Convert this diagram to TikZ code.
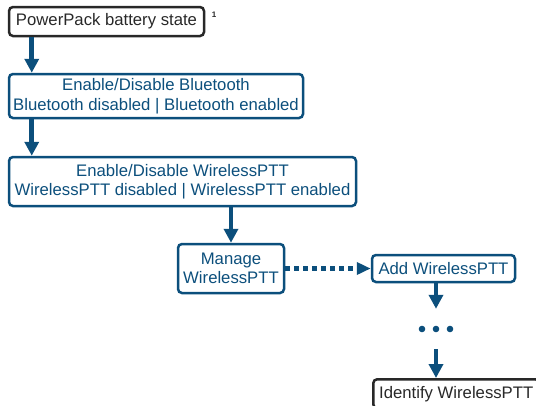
\documentclass[tikz,border=0pt]{standalone}
\usepackage{fontspec}
\setmainfont{Liberation Sans}
\usetikzlibrary{arrows.meta,calc}
\definecolor{mblue}{RGB}{12,79,124}
\definecolor{mgray}{RGB}{40,40,40}
\begin{document}
\begin{tikzpicture}[x=1pt,y=-1pt,
  box/.style={draw=mblue,text=mblue,line width=2.5pt,rounded corners=4pt,align=center,
    inner sep=0pt,font=\fontsize{16.7}{19.5}\selectfont},
  graybox/.style={box,draw=mgray,text=mgray},
  arr/.style={draw=mblue,line width=4.6pt,-{Triangle[width=14pt,length=14pt]}},
  dotarr/.style={arr,dash pattern=on 5pt off 4pt,-{Triangle[width=12pt,length=14pt]}}]
\useasboundingbox (0,0) rectangle (536,405);
\node[graybox,minimum width=195,minimum height=29] (b1) at (106.5,21.5) {PowerPack battery state};
\node[text=mgray,font=\fontsize{8}{9}\bfseries] (note) at (214,15) {1};
\node[box,minimum width=294,minimum height=44] (b2) at (156,96) {Enable/Disable Bluetooth\\Bluetooth disabled | Bluetooth enabled};
\node[box,minimum width=347,minimum height=49] (b3) at (182.5,181.5) {Enable/Disable WirelessPTT\\WirelessPTT disabled | WirelessPTT enabled};
\node[box,minimum width=106,minimum height=49] (b4) at (231,268.5) {Manage\\WirelessPTT};
\node[box,minimum width=143,minimum height=27] (b5) at (443.5,268.5) {Add WirelessPTT};
\node[inner sep=0pt,minimum height=40,minimum width=34] (dots) at (436,329) {};
\foreach \dx in {-14,0,14} \fill[mblue] ($(dots.center)+(\dx,0)$) circle (3.3);
\node[graybox,minimum width=166,minimum height=29,anchor=north west] (b6) at (372,378) {Identify WirelessPTT};
\draw[arr] ($(b1.south west)+(24,0)$) coordinate (a1) -- (a1 |- b2.north);
\draw[arr] ($(b2.south west)+(24,0)$) coordinate (a2) -- (a2 |- b3.north);
\draw[arr] (b4.north |- b3.south) -- (b4.north);
\draw[dotarr] (b4.east) -- (b5.west);
\draw[arr] (dots.north |- b5.south) -- (dots.north);
\draw[arr] (dots.south) -- (dots.south |- b6.north);
\end{tikzpicture}
\end{document}
